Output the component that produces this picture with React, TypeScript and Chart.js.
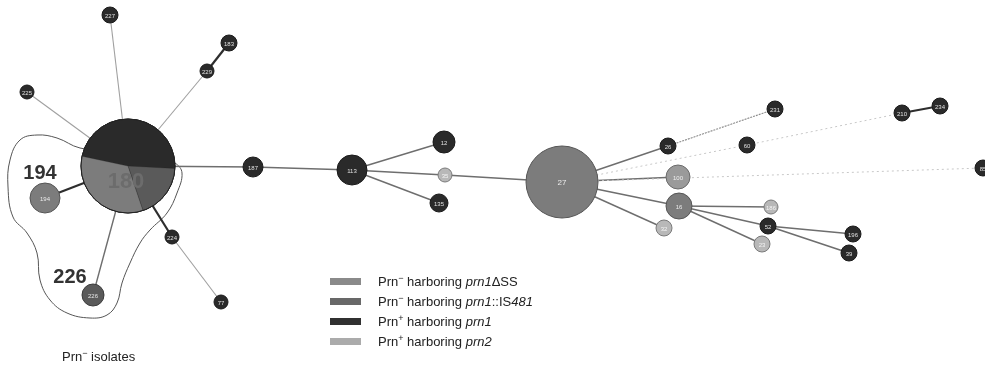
import React, { useEffect, useRef } from "react";
import { Chart, registerables } from "chart.js";
Chart.register(...registerables);

// ---- data ----
const nodeIds = ["180", "227", "225", "229", "183", "194", "226", "224", "77", "187", "113", "12", "35", "135", "27", "26", "231", "60", "210", "234", "85", "100", "16", "32", "186", "52", "23", "196", "39"];
const nodeX = [128, 110, 27, 207, 229, 45, 93, 172, 221, 253, 352, 444, 445, 439, 562, 668, 775, 747, 902, 940, 983, 678, 679, 664, 771, 768, 762, 853, 849];
const nodeY = [166, 15, 92, 71, 43, 198, 295, 237, 302, 167, 170, 142, 175, 203, 182, 146, 109, 145, 113, 106, 168, 177, 206, 228, 207, 226, 244, 234, 253];
const nodeSize = [47, 8, 7, 7, 8, 15, 11, 7, 7, 10, 15, 11, 7, 9, 36, 8, 8, 8, 8, 8, 8, 12, 13, 8, 7, 8, 8, 8, 8];
// visual shade class of each node: 0 prn1ΔSS, 1 prn1::IS481, 2 prn1, 3 prn2, 4 prn2 (light)
const nodeGroup = [2, 2, 2, 2, 2, 0, 1, 2, 2, 2, 2, 2, 4, 2, 0, 2, 2, 2, 2, 2, 2, 3, 0, 4, 4, 2, 4, 2, 2];

// MST links (from -> to) and their link class
const edgeFrom = ["180", "180", "180", "229", "180", "180", "180", "224", "180", "187", "113", "113", "113", "35", "27", "26", "27", "60", "210", "27", "27", "27", "27", "16", "16", "16", "52", "52"];
const edgeTo = ["227", "225", "229", "183", "194", "226", "224", "77", "187", "113", "12", "35", "135", "27", "26", "231", "60", "210", "234", "85", "100", "16", "32", "186", "52", "23", "196", "39"];
const edgeKind = ["weak", "weak", "weak", "strong", "strong", "mid", "strong", "weak", "mid", "mid", "mid", "mid", "mid", "mid", "mid", "dot", "faint", "faint", "strong", "faint", "mid", "mid", "mid", "mid", "mid", "mid", "mid", "mid"];

// pie composition of node 180 (shares, clockwise from start angle)
const pie180Share = [0.475, 0.19, 0.335];
const pie180Group = [2, 1, 0];

// enclosure of Prn- isolates (layout coordinates)
const hullX = [110, 80, 57, 37, 20, 10, 8, 13, 27, 37, 40, 50, 67, 90, 107, 117, 122, 130, 140, 150, 167, 177, 182, 175, 150, 110];
const hullY = [150, 148, 138, 135, 140, 160, 187, 217, 233, 253, 280, 300, 313, 318, 315, 303, 283, 263, 243, 230, 213, 193, 173, 163, 150, 150];

const legendLabels = [
  ["Prn", "−", " harboring ", "prn1", "ΔSS", ""],
  ["Prn", "−", " harboring ", "prn1", "::IS", "481"],
  ["Prn", "+", " harboring ", "prn1", "", ""],
  ["Prn", "+", " harboring ", "prn2", "", ""],
];

// ---- styles ----
const groupColor = ["#7c7c7c", "#5a5a5a", "#2a2a2a", "#9a9a9a", "#b8b8b8"];
const groupBorder = ["#555", "#3c3c3c", "#1a1a1a", "#6a6a6a", "#7a7a7a"];
const legendSwatch = ["#8a8a8a", "#686868", "#303030", "#ababab"];
const edgeStyle: Record<string, { c: string; w: number; d: number[] }> = {
  strong: { c: "#2e2e2e", w: 2.2, d: [] },
  mid: { c: "#6e6e6e", w: 1.4, d: [] },
  weak: { c: "#a0a0a0", w: 1.1, d: [] },
  dot: { c: "#8a8a8a", w: 1.1, d: [2, 1] },
  faint: { c: "#c8c8c8", w: 1, d: [2, 3] },
};

const FONT = "'Liberation Sans', Arial, sans-serif";

export default function App() {
  const ref = useRef<HTMLCanvasElement | null>(null);
  useEffect(() => {
    if (!ref.current) return;
    const idx = (id: string) => nodeIds.indexOf(id);
    const edgeSets = edgeFrom.map((f, i) => {
      const a = idx(f);
      const b = idx(edgeTo[i]);
      const s = edgeStyle[edgeKind[i]];
      return {
        type: "scatter" as const,
        data: [
          { x: nodeX[a], y: nodeY[a] },
          { x: nodeX[b], y: nodeY[b] },
        ],
        showLine: true,
        borderColor: s.c,
        borderWidth: s.w,
        borderDash: s.d,
        pointRadius: 0,
        order: 5,
      };
    });
    const hull = {
      type: "scatter" as const,
      data: hullX.map((x, i) => ({ x, y: hullY[i] })),
      showLine: true,
      tension: 0.4,
      borderColor: "#555",
      borderWidth: 1,
      pointRadius: 0,
      order: 6,
    };
    const nodes = {
      type: "bubble" as const,
      data: nodeIds.map((_, i) => ({ x: nodeX[i], y: nodeY[i], r: nodeSize[i] })),
      backgroundColor: nodeGroup.map((g) => groupColor[g]),
      borderColor: nodeGroup.map((g) => groupBorder[g]),
      borderWidth: 1,
      clip: false,
      order: 0,
    };
    const overlay = {
      id: "overlay",
      afterDatasetsDraw(chart: any) {
        const ctx = chart.ctx;
        const xs = chart.scales.x;
        const ys = chart.scales.y;
        // pie of node 180
        const i0 = idx("180");
        const cx = xs.getPixelForValue(nodeX[i0]);
        const cy = ys.getPixelForValue(nodeY[i0]);
        const r = nodeSize[i0];
        let a = (-168 * Math.PI) / 180;
        ctx.save();
        pie180Share.forEach((s, k) => {
          const e = a + s * Math.PI * 2;
          ctx.beginPath();
          ctx.moveTo(cx, cy);
          ctx.arc(cx, cy, r, a, e);
          ctx.closePath();
          ctx.fillStyle = groupColor[pie180Group[k]];
          ctx.fill();
          ctx.strokeStyle = "rgba(40,40,40,0.5)";
          ctx.lineWidth = 0.6;
          ctx.stroke();
          a = e;
        });
        ctx.beginPath();
        ctx.arc(cx, cy, r, 0, Math.PI * 2);
        ctx.strokeStyle = "#222";
        ctx.lineWidth = 1;
        ctx.stroke();
        // small labels
        ctx.textAlign = "center";
        ctx.textBaseline = "middle";
        nodeIds.forEach((id, i) => {
          if (id === "180") return;
          const px = xs.getPixelForValue(nodeX[i]);
          const py = ys.getPixelForValue(nodeY[i]);
          const fs = nodeSize[i] > 20 ? 8 : 6;
          ctx.font = `${fs}px ${FONT}`;
          ctx.fillStyle = "rgba(255,255,255,0.85)";
          ctx.fillText(id, px, py + 1);
        });
        // big labels
        ctx.font = `bold 22px ${FONT}`;
        ctx.fillStyle = "#6c6c6c";
        ctx.fillText("180", cx - 2, cy + 16);
        ctx.font = `bold 20px ${FONT}`;
        ctx.fillStyle = "#333";
        const i194 = idx("194");
        ctx.fillText("194", xs.getPixelForValue(nodeX[i194]) - 5, ys.getPixelForValue(nodeY[i194]) - 25);
        const i226 = idx("226");
        ctx.fillText("226", xs.getPixelForValue(nodeX[i226]) - 23, ys.getPixelForValue(nodeY[i226]) - 18);
        ctx.restore();
      },
    };
    const chart = new Chart(ref.current, {
      type: "scatter",
      data: { datasets: [nodes as any, ...edgeSets, hull] },
      options: {
        animation: false,
        responsive: false,
        devicePixelRatio: 1,
        events: [],
        layout: { padding: 0, autoPadding: false },
        plugins: { legend: { display: false }, tooltip: { enabled: false } },
        scales: {
          x: { type: "linear", min: 0, max: 985, display: false },
          y: { type: "linear", min: 0, max: 369, reverse: true, display: false },
        },
      },
      plugins: [overlay],
    });
    return () => chart.destroy();
  }, []);

  return (
    <div style={{ position: "fixed", left: 0, top: 0, width: 985, height: 369, background: "#fff", fontFamily: FONT }}>
      <canvas ref={ref} width={985} height={369} style={{ width: 985, height: 369, display: "block" }} />
      <div style={{ position: "absolute", left: 330, top: 271 }}>
        {legendLabels.map((l, i) => (
          <div key={i} style={{ display: "flex", alignItems: "center", height: 20, fontSize: 13, color: "#222" }}>
            <span style={{ display: "inline-block", width: 31, height: 7, background: legendSwatch[i], marginRight: 17 }} />
            <span>
              {l[0]}
              <sup style={{ fontSize: 9 }}>{l[1]}</sup>
              {l[2]}
              <i>{l[3]}</i>
              {l[4]}
              <i>{l[5]}</i>
            </span>
          </div>
        ))}
      </div>
      <div style={{ position: "absolute", left: 62, top: 348, fontSize: 13, color: "#222" }}>
        Prn<sup style={{ fontSize: 9 }}>−</sup> isolates
      </div>
    </div>
  );
}
